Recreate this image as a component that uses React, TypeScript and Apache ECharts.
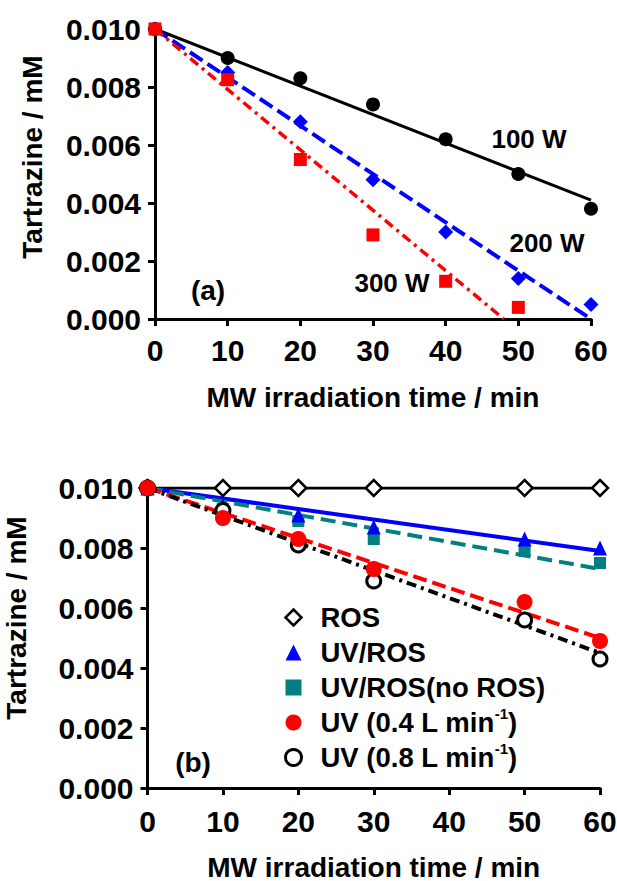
import React, { useEffect, useRef } from 'react';
import * as echarts from 'echarts';

// ---------- Panel (a) data ----------
const timeA = [0, 10, 20, 30, 40, 50, 60];
const timeA300 = [0, 10, 20, 30, 40, 50];
const w100 = [0.01, 0.009, 0.0083, 0.0074, 0.0062, 0.005, 0.0038];
const w200 = [0.01, 0.0085, 0.0068, 0.0048, 0.003, 0.0014, 0.0005];
const w300 = [0.01, 0.00825, 0.0055, 0.0029, 0.0013, 0.0004];
const fit100 = [[0, 0.01], [60, 0.0041]];
const fit200 = [[0, 0.01], [60, 0.0]];
const fit300 = [[0, 0.01], [48, 0.0]];

// ---------- Panel (b) data ----------
const timeB = [0, 10, 20, 30, 50, 60];
const ros = [0.01, 0.01, 0.01, 0.01, 0.01, 0.01];
const uvRos = [0.01, 0.0094, 0.0091, 0.0087, 0.0083, 0.008];
const uvRosNoRos = [0.01, 0.0093, 0.0089, 0.0083, 0.0079, 0.0075];
const uv04 = [0.01, 0.009, 0.0083, 0.0073, 0.0062, 0.0049];
const uv08 = [0.01, 0.00925, 0.0081, 0.0069, 0.0056, 0.0043];
const fitUvRos = [[0, 0.01], [60, 0.0079]];
const fitUvRosNoRos = [[0, 0.01], [60, 0.0073]];
const fitUv04 = [[0, 0.01], [60, 0.005]];
const fitUv08 = [[0, 0.01], [60, 0.0045]];

const xTicks = { min: 0, max: 60, interval: 10 };
const yTicks = { min: 0, max: 0.01, interval: 0.002 };
const xTitle = 'MW irradiation time / min';
const yTitle = 'Tartrazine / mM';
const seriesNamesB = ['ROS', 'UV/ROS', 'UV/ROS(no ROS)', 'UV (0.4 L min-1)', 'UV (0.8 L min-1)'];
const legendRich: Record<string, string> = {
  'UV (0.4 L min-1)': 'UV (0.4 L min{sup|-1})',
  'UV (0.8 L min-1)': 'UV (0.8 L min{sup|-1})',
};

const FONT = '"Liberation Sans", Arial, Helvetica, sans-serif';
const BLUE = '#0000ff';
const RED = '#ff0000';
const TEAL = '#008080';

const zip = (xs: number[], ys: number[]) => xs.map((x, i) => [x, ys[i]]);

const tickFont = { fontFamily: FONT, fontWeight: 'bold' as const, fontSize: 30, color: '#000' };
const axisLine = { show: true, onZero: false, lineStyle: { color: '#000', width: 3 } };
const axisTick = { show: true, inside: false, length: 7, lineStyle: { color: '#000', width: 3 } };

function makeX(gridIndex: number, nameGap: number, margin: number) {
  return {
    type: 'value', gridIndex, ...xTicks,
    name: xTitle, nameLocation: 'middle', nameGap,
    nameTextStyle: { fontFamily: FONT, fontWeight: 'bold', fontSize: 28, lineHeight: 28, color: '#000' },
    axisLine, axisTick,
    axisLabel: { ...tickFont, margin },
    splitLine: { show: false },
  };
}
function makeY(gridIndex: number, nameGap: number, shift: number) {
  return {
    type: 'value', gridIndex, ...yTicks,
    name: yTitle, nameLocation: 'middle', nameGap,
    nameTextStyle: { fontFamily: FONT, fontWeight: 'bold', fontSize: 28, color: '#000', padding: [0, 0, 0, shift] },
    axisLine, axisTick,
    axisLabel: { ...tickFont, margin: 14, formatter: (v: number) => v.toFixed(3) },
    splitLine: { show: false },
  };
}

function fitLine(name: string, data: number[][], color: string, width: number, dash: any, idx: number) {
  return {
    name, type: 'line', xAxisIndex: idx, yAxisIndex: idx, data, symbol: 'none',
    lineStyle: { color, width, type: dash }, silent: true, z: 2,
  };
}
function pts(name: string, data: number[][], symbol: string, size: any, style: any, idx: number) {
  return {
    name, type: 'scatter', xAxisIndex: idx, yAxisIndex: idx, data, symbol, symbolSize: size,
    itemStyle: { opacity: 1, ...style }, z: 3,
  };
}

const labelText = (text: string, x: number, y: number, size: number) => ({
  type: 'text', x, y,
  style: {
    text, fill: '#000', fontFamily: FONT, fontWeight: 'bold', fontSize: size,
    align: 'center', verticalAlign: 'middle', textAlign: 'center', textVerticalAlign: 'middle',
  },
});

export default function App() {
  const ref = useRef<HTMLDivElement>(null);
  useEffect(() => {
    if (!ref.current) return;
    const chart = echarts.init(ref.current, undefined, { renderer: 'svg' });
    const option: any = {
      animation: false,
      backgroundColor: '#fff',
      grid: [
        { left: 155, top: 29, width: 436, height: 290, containLabel: false, outerBoundsMode: 'none' },
        { left: 147.5, top: 488, width: 452.5, height: 300, containLabel: false, outerBoundsMode: 'none' },
      ],
      xAxis: [makeX(0, 64, 16), makeX(1, 65, 18)],
      yAxis: [makeY(0, 109, 34), makeY(1, 117, 40)],
      legend: {
        show: true,
        orient: 'vertical', left: 284, top: 601, padding: 0, itemGap: 2,
        itemWidth: 16, itemHeight: 16, selectedMode: false,
        data: [
          { name: seriesNamesB[0], icon: 'diamond', itemStyle: { color: '#fff', borderColor: '#000', borderWidth: 2.5 } },
          { name: seriesNamesB[1], icon: 'triangle', itemStyle: { color: BLUE, borderWidth: 0 } },
          { name: seriesNamesB[2], icon: 'rect', itemStyle: { color: TEAL, borderWidth: 0 } },
          { name: seriesNamesB[3], icon: 'circle', itemStyle: { color: RED, borderWidth: 0 } },
          { name: seriesNamesB[4], icon: 'circle', itemStyle: { color: '#fff', borderColor: '#000', borderWidth: 3 } },
        ],
        formatter: (n: string) => legendRich[n] || n,
        textStyle: {
          fontFamily: FONT, fontWeight: 'bold', fontSize: 27.5, color: '#000', lineHeight: 33,
          padding: [0, 0, 0, 14],
          rich: {
            sup: { fontFamily: FONT, fontWeight: 'bold', fontSize: 15, lineHeight: 15, color: '#000', padding: [0, 0, 18, 0] },
          },
        },
      },
      graphic: [
        labelText('(a)', 208, 290, 28),
        labelText('100 W', 529, 139, 26),
        labelText('200 W', 547, 243, 26),
        labelText('300 W', 392, 283, 26),
        labelText('(b)', 193, 762, 28),
      ],
      series: [
        // panel (a)
        fitLine('fit 100 W', fit100, '#000', 3, 'solid', 0),
        fitLine('fit 200 W', fit200, BLUE, 4, [15, 6], 0),
        fitLine('fit 300 W', fit300, RED, 3.5, [10, 5, 3, 5], 0),
        pts('100 W', zip(timeA, w100), 'circle', 14, { color: '#000' }, 0),
        pts('200 W', zip(timeA, w200), 'diamond', 15, { color: BLUE }, 0),
        pts('300 W', zip(timeA300, w300), 'rect', 13, { color: RED }, 0),
        // panel (b)
        {
          name: 'ROS line', type: 'line', xAxisIndex: 1, yAxisIndex: 1, data: zip(timeB, ros),
          symbol: 'none', lineStyle: { color: '#000', width: 3 }, silent: true, z: 2,
        },
        fitLine('fit UV/ROS', fitUvRos, BLUE, 4, 'solid', 1),
        fitLine('fit UV/ROS(no ROS)', fitUvRosNoRos, TEAL, 4, [15, 7], 1),
        fitLine('fit UV 0.4', fitUv04, RED, 4, [14, 6], 1),
        fitLine('fit UV 0.8', fitUv08, '#000', 4, [10, 5, 3, 5], 1),
        pts(seriesNamesB[0], zip(timeB, ros), 'diamond', 16, { color: '#fff', borderColor: '#000', borderWidth: 2.5 }, 1),
        pts(seriesNamesB[2], zip(timeB, uvRosNoRos), 'rect', 12, { color: TEAL }, 1),
        pts(seriesNamesB[1], zip(timeB, uvRos), 'triangle', [14, 15], { color: BLUE }, 1),
        pts(seriesNamesB[4], zip(timeB, uv08), 'circle', 14, { color: '#fff', borderColor: '#000', borderWidth: 3 }, 1),
        pts(seriesNamesB[3], zip(timeB, uv04), 'circle', 16, { color: RED }, 1),
      ],
    };
    chart.setOption(option);
    return () => chart.dispose();
  }, []);
  return (
    <div
      ref={ref}
      style={{ position: 'absolute', left: 0, top: 0, width: 617, height: 881, background: '#fff' }}
    />
  );
}
